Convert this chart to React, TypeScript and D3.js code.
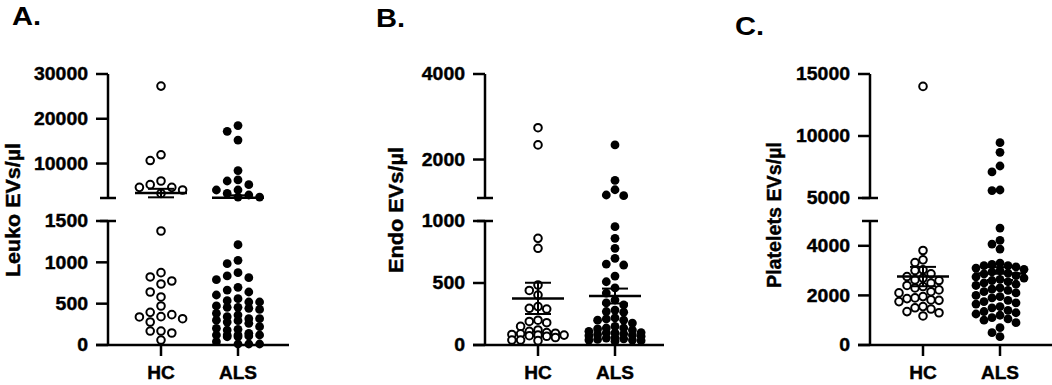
import React from 'react'
import * as d3 from 'd3'

const groups = ['HC', 'ALS']

// A. Leuko EVs/µl
const leukoHC = [27300, 11950, 10670, 6100, 5280, 4680, 4680, 4090, 3330,
  1379, 875, 823, 774, 738, 641, 581, 472, 395, 367, 343, 339, 318, 278, 169, 169, 145, 60]
const leukoALS = [18470, 17190, 15240, 8430, 6340, 6100, 5280, 4090, 4090, 3330, 2970, 2500, 2500,
  1213, 1024, 984, 875, 835, 814, 790, 698, 665, 641, 605, 560, 536, 520, 520, 472, 456, 456, 444, 430,
  383, 363, 343, 318, 318, 300, 294, 278, 262, 222, 202, 190, 181, 141, 121, 121, 110, 121, 100, 121,
  100, 40, 12, 12, 12]
const leukoMean = [3400, 2350]
const leukoSem = [950, 550]
const leukoLowTicks = [0, 500, 1000, 1500]
const leukoHighTicks = [10000, 20000, 30000]

// B. Endo EVs/µl
const endoHC = [2744, 2342, 860, 780, 484, 440, 403, 310, 296, 290, 200, 190, 180, 150, 121, 110, 100,
  95, 90, 85, 80, 80, 75, 70, 60, 40, 40, 35]
const endoALS = [2342, 1511, 1293, 1170, 1155, 954, 860, 780, 699, 653, 645, 556, 510, 460, 419, 363,
  339, 323, 282, 270, 265, 218, 210, 200, 200, 177, 150, 137, 137, 130, 120, 110, 100, 97, 97, 90, 85,
  80, 75, 70, 60, 56, 50, 45, 40, 40, 35, 30]
const endoMean = [376, 395]
const endoSem = [126, 60]
const endoLowTicks = [0, 500, 1000]
const endoHighTicks = [2000, 4000]

// C. Platelets EVs/µl
const platHC = [14000, 3810, 3434, 3325, 3030, 3002, 2869, 2760, 2700, 2626, 2600, 2493, 2400, 2356,
  2300, 2222, 2150, 2100, 1952, 1900, 1871, 1818, 1800, 1750, 1548, 1500, 1450, 1347, 1300, 1172]
const platALS = [9460, 8685, 7580, 7100, 5645, 5600, 4714, 4215, 4068, 3867, 3300, 3250, 3200, 3200,
  3150, 3100, 3050, 3000, 2950, 2900, 2870, 2800, 2750, 2700, 2650, 2600, 2550, 2500, 2450, 2400, 2300,
  2250, 2200, 2150, 2100, 2000, 1950, 1900, 1800, 1750, 1700, 1650, 1550, 1500, 1400, 1350, 1300, 1250,
  1200, 1100, 1050, 1000, 900, 700, 497, 335]
const platMean = [2760, 2880]
const platSem = [390, 260]
const platLowTicks = [0, 2000, 4000]
const platHighTicks = [5000, 10000, 15000]

const FONT = '"Liberation Sans", Arial, sans-serif'
const HI_TOP = 74, HI_BOT = 198, LO_TOP = 221, LO_BOT = 345

// simple beeswarm, capped at +-maxW; if crowded, take the least crowded slot
function swarm(ys: number[], step: number, minDist: number, maxW: number) {
  const order = d3.range(ys.length).sort((a, b) => ys[a] - ys[b])
  const placed: { x: number, y: number }[] = []
  const xs: number[] = new Array(ys.length).fill(0)
  const kMax = Math.floor(maxW / step) * 2
  for (const i of order) {
    let best = 0, bestD = -1
    for (let k = 0; k <= kMax; k++) {
      const off = (k % 2 === 1 ? -1 : 1) * Math.ceil(k / 2) * step
      const d = d3.min(placed, p => Math.hypot(p.x - off, p.y - ys[i])) ?? Infinity
      if (d >= minDist) { best = off; bestD = d; break }
      if (d > bestD) { bestD = d; best = off }
    }
    xs[i] = best
    placed.push({ x: best, y: ys[i] })
  }
  return xs
}

function Panel(props: any) {
  const { axisX, letter, letterX, letterY, title, titleX, titleY, titleLen, lowMax, highMin, highMax,
    lowTicks, highTicks, series, means, sems, step, minDist, maxW, xEnd } = props
  const yLow = d3.scaleLinear().domain([0, lowMax]).range([LO_BOT, LO_TOP])
  const yHigh = d3.scaleLinear().domain([highMin, highMax]).range([HI_BOT, HI_TOP])
  const y = (v: number) => v <= lowMax ? yLow(v) : yHigh(Math.max(v, highMin))
  const x = d3.scalePoint().domain(groups).range([axisX + 53, axisX + 130])

  const tickLabel = (v: number, ty: number) => (
    <g key={'t' + v}>
      <line x1={axisX - 12} x2={axisX} y1={ty} y2={ty} stroke="#000" strokeWidth={2.5} />
      <text transform={`translate(${axisX - 20},${ty}) scale(1.08,1)`} textAnchor="end" dy="0.36em"
        fontSize={18} fontWeight="bold" fontFamily={FONT} stroke="#000" strokeWidth={0.4}>{v}</text>
    </g>
  )

  return (
    <g>
      <text transform={`translate(${letterX},${letterY}) scale(1.12,1)`} fontSize={26} fontWeight="bold"
        fontFamily={FONT}>{letter}</text>
      <text transform={`translate(${titleX},${titleY}) rotate(-90)`} textAnchor="middle" fontSize={20}
        fontWeight="bold" fontFamily={FONT} stroke="#000" strokeWidth={0.4}
        textLength={titleLen} lengthAdjust="spacingAndGlyphs">{title}</text>

      {/* axis segments */}
      <line x1={axisX} x2={axisX} y1={HI_TOP} y2={HI_BOT} stroke="#000" strokeWidth={2.5} />
      <line x1={axisX} x2={axisX} y1={LO_TOP} y2={LO_BOT} stroke="#000" strokeWidth={2.5} />
      <line x1={axisX - 8} x2={axisX + 8} y1={HI_BOT} y2={HI_BOT} stroke="#000" strokeWidth={2.5} />
      <line x1={axisX - 8} x2={axisX + 8} y1={LO_TOP} y2={LO_TOP} stroke="#000" strokeWidth={2.5} />
      {lowTicks.map((v: number) => tickLabel(v, yLow(v)))}
      {highTicks.map((v: number) => tickLabel(v, yHigh(v)))}

      <line x1={axisX - 12} x2={xEnd} y1={LO_BOT} y2={LO_BOT} stroke="#000" strokeWidth={2.5} />
      {groups.map(g => (
        <g key={g}>
          <line x1={x(g)} x2={x(g)} y1={LO_BOT} y2={LO_BOT + 11} stroke="#000" strokeWidth={2.5} />
          <text transform={`translate(${x(g)},379) scale(1.06,1)`} textAnchor="middle" fontSize={18}
            fontWeight="bold" fontFamily={FONT} stroke="#000" strokeWidth={0.4}>{g}</text>
        </g>
      ))}

      {series.map((vals: number[], gi: number) => {
        const ys = vals.map(y)
        const xs = swarm(ys, step, minDist, maxW)
        const cx = x(groups[gi]) as number
        return (
          <g key={gi}>
            {vals.map((v, i) => gi === 0
              ? <circle key={i} cx={cx + xs[i]} cy={ys[i]} r={3.8} fill="#fff" stroke="#000" strokeWidth={2} />
              : <circle key={i} cx={cx + xs[i]} cy={ys[i]} r={4.4} fill="#000" />)}
          </g>
        )
      })}

      {means.map((m: number, gi: number) => {
        const cx = x(groups[gi]) as number
        const lo = m - sems[gi], hi = m + sems[gi]
        const inGap = (v: number) => v > lowMax && v < highMin
        return (
          <g key={'m' + gi} stroke="#000">
            <line x1={cx - 26} x2={cx + 26} y1={y(m)} y2={y(m)} strokeWidth={2.5} />
            <line x1={cx} x2={cx} y1={y(lo)} y2={y(hi)} strokeWidth={2} />
            {!inGap(lo) && <line x1={cx - 13} x2={cx + 13} y1={y(lo)} y2={y(lo)} strokeWidth={2} />}
            {!inGap(hi) && <line x1={cx - 13} x2={cx + 13} y1={y(hi)} y2={y(hi)} strokeWidth={2} />}
          </g>
        )
      })}
    </g>
  )
}

export default function App() {
  return (
    <svg width={1052} height={385} style={{ position: 'absolute', left: 0, top: 0, background: '#fff' }}>
      <Panel axisX={108} xEnd={289} letter="A." letterX={12} letterY={25}
        title="Leuko EVs/µl" titleX={19.5} titleY={210} titleLen={134}
        lowMax={1500} highMin={2300} highMax={30000} lowTicks={leukoLowTicks} highTicks={leukoHighTicks}
        series={[leukoHC, leukoALS]} means={leukoMean} sems={leukoSem} step={10.8} minDist={9} maxW={22} />
      <Panel axisX={485} xEnd={664} letter="B." letterX={376} letterY={26.5}
        title="Endo EVs/µl" titleX={403} titleY={210} titleLen={126}
        lowMax={1000} highMin={1100} highMax={4000} lowTicks={endoLowTicks} highTicks={endoHighTicks}
        series={[endoHC, endoALS]} means={endoMean} sems={endoSem} step={8.7} minDist={7} maxW={27} />
      <Panel axisX={870} xEnd={1060} letter="C." letterX={735} letterY={35}
        title="Platelets EVs/µl" titleX={781} titleY={215} titleLen={146}
        lowMax={5000} highMin={5000} highMax={15000} lowTicks={platLowTicks} highTicks={platHighTicks}
        series={[platHC, platALS]} means={platMean} sems={platSem} step={8} minDist={8} maxW={24} />
    </svg>
  )
}
